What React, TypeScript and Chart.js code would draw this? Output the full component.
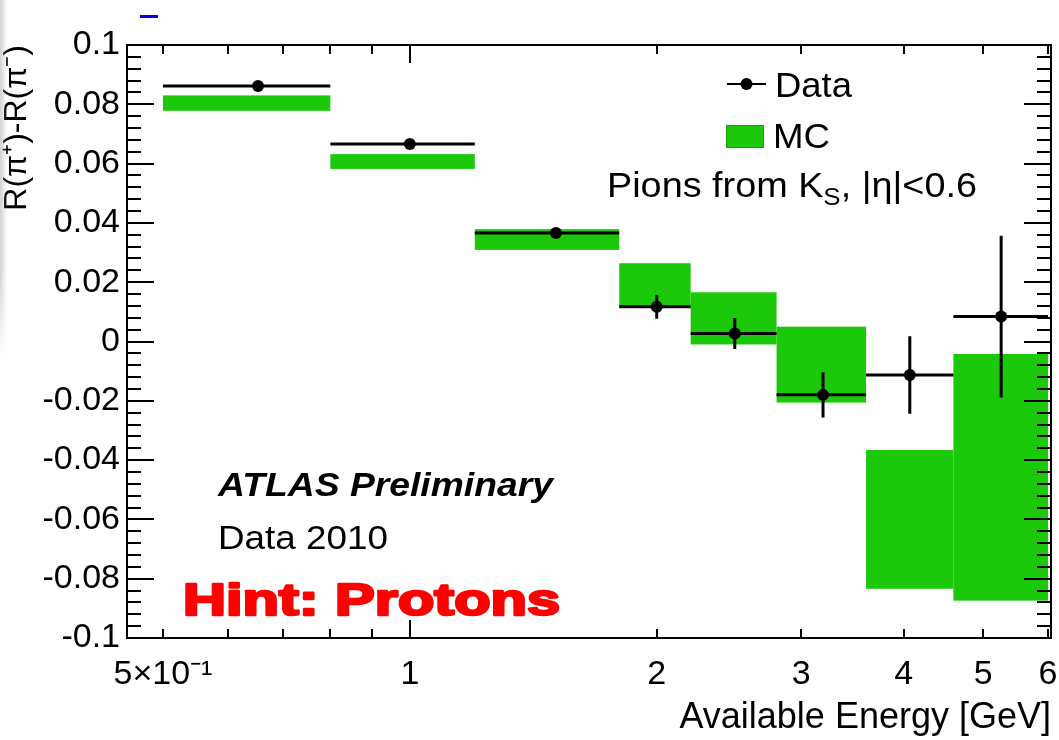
import React, { useEffect, useRef } from "react";
import { Chart, registerables } from "chart.js";

Chart.register(...registerables);

// Energy bins in GeV
const binEdges = [0.5, 0.8, 1.2, 1.8, 2.2, 2.8, 3.6, 4.6, 6.0];

// Measured asymmetry: mean available energy in each bin, value and uncertainty
const dataEnergy = [0.653, 1.0, 1.507, 2.0, 2.49, 3.19, 4.07, 5.26];
const dataValue = [0.0862, 0.0666, 0.0366, 0.0117, 0.0027, -0.018, -0.0113, 0.0084];
const dataError = [0.0012, 0.0012, 0.0012, 0.004, 0.0052, 0.0076, 0.0131, 0.0273];

// Simulation: band centre and half height per bin
const mcValue = [0.0804, 0.0607, 0.0344, 0.019, 0.0078, -0.0078, -0.06, -0.0458];
const mcError = [0.0026, 0.0025, 0.0035, 0.0074, 0.0088, 0.0128, 0.0234, 0.0416];

// Axis furniture
const xLabelValues = [0.5, 1, 2, 3, 4, 5, 6];
const xLabelTexts = ["5×10⁻¹", "1", "2", "3", "4", "5", "6"];
const xMajorTicks = [1];
const xMinorTicks = [0.5, 0.6, 0.7, 0.8, 0.9, 2, 3, 4, 5, 6];
const xRange = [0.452, 6.05];
const yRange = [-0.1, 0.1];
const yMajorStep = 0.02;
const yMinorStep = 0.004;

const FONT = '"Liberation Sans", Arial, Helvetica, sans-serif';
const GREEN = "#1cc80a";

function fitText(
  ctx: CanvasRenderingContext2D,
  text: string,
  x: number,
  baseline: number,
  font: string,
  width: number,
  color: string,
  stroke = 0
) {
  ctx.save();
  ctx.font = font;
  ctx.textBaseline = "alphabetic";
  ctx.textAlign = "left";
  const w = ctx.measureText(text).width;
  ctx.translate(x, baseline);
  ctx.scale(width / w, 1);
  ctx.fillStyle = color;
  ctx.fillText(text, 0, 0);
  if (stroke > 0) {
    ctx.strokeStyle = color;
    ctx.lineWidth = stroke;
    ctx.lineJoin = "round";
    ctx.strokeText(text, 0, 0);
  }
  ctx.restore();
}

const hepPlugin = {
  id: "hepPlot",
  beforeDatasetsDraw(chart: any) {
    const { ctx } = chart;
    const x = chart.scales.x;
    const y = chart.scales.y;
    ctx.save();
    // simulation bands
    ctx.fillStyle = GREEN;
    for (let i = 0; i < mcValue.length; i++) {
      const x0 = x.getPixelForValue(binEdges[i]);
      const x1 = x.getPixelForValue(binEdges[i + 1]);
      const yT = y.getPixelForValue(mcValue[i] + mcError[i]);
      const yB = y.getPixelForValue(mcValue[i] - mcError[i]);
      ctx.fillRect(x0, yT, x1 - x0, yB - yT);
    }
    // data bin widths and error bars
    ctx.strokeStyle = "#000";
    ctx.lineWidth = 3;
    ctx.lineCap = "butt";
    for (let i = 0; i < dataValue.length; i++) {
      const x0 = x.getPixelForValue(binEdges[i]);
      const x1 = x.getPixelForValue(binEdges[i + 1]);
      const xc = x.getPixelForValue(dataEnergy[i]);
      const yc = y.getPixelForValue(dataValue[i]);
      const yT = y.getPixelForValue(dataValue[i] + dataError[i]);
      const yB = y.getPixelForValue(dataValue[i] - dataError[i]);
      ctx.beginPath();
      ctx.moveTo(x0, yc);
      ctx.lineTo(x1, yc);
      ctx.moveTo(xc, yT);
      ctx.lineTo(xc, yB);
      ctx.stroke();
    }
    ctx.restore();
  },
  afterDraw(chart: any) {
    const { ctx, chartArea } = chart;
    const x = chart.scales.x;
    const y = chart.scales.y;
    const { left, right, top, bottom } = chartArea;
    ctx.save();
    ctx.strokeStyle = "#000";
    ctx.lineWidth = 2;
    ctx.beginPath();
    // y ticks on both sides
    const nSteps = Math.round((yRange[1] - yRange[0]) / yMinorStep);
    const perMajor = Math.round(yMajorStep / yMinorStep);
    for (let k = 0; k <= nSteps; k++) {
      const py = Math.round(y.getPixelForValue(yRange[0] + k * yMinorStep));
      const len = k % perMajor === 0 ? 27 : 14;
      ctx.moveTo(left, py);
      ctx.lineTo(left + len, py);
      ctx.moveTo(right, py);
      ctx.lineTo(right - len, py);
    }
    // x ticks on bottom and top
    const xTick = (v: number, len: number) => {
      const px = Math.round(x.getPixelForValue(v));
      ctx.moveTo(px, bottom);
      ctx.lineTo(px, bottom - len);
      ctx.moveTo(px, top);
      ctx.lineTo(px, top + len);
    };
    xMinorTicks.forEach((v) => xTick(v, 9));
    xMajorTicks.forEach((v) => xTick(v, 18));
    ctx.stroke();
    ctx.strokeRect(left, top, right - left, bottom - top);

    // legend
    ctx.lineWidth = 2;
    ctx.beginPath();
    ctx.moveTo(727, 84);
    ctx.lineTo(766, 84);
    ctx.stroke();
    ctx.fillStyle = "#000";
    ctx.beginPath();
    ctx.arc(746.5, 84, 6, 0, Math.PI * 2);
    ctx.fill();
    fitText(ctx, "Data", 775, 97, `35px ${FONT}`, 77, "#000");
    ctx.fillStyle = GREEN;
    ctx.fillRect(726, 125, 38, 23);
    ctx.strokeStyle = "#15a008";
    ctx.lineWidth = 1;
    ctx.strokeRect(726.5, 125.5, 37, 22);
    fitText(ctx, "MC", 773, 148, `35px ${FONT}`, 57, "#000");

    // selection text with subscript
    ctx.font = `35px ${FONT}`;
    const sx = 1.08;
    const partA = "Pions from K";
    const partC = ", |η|<0.6";
    const wA = ctx.measureText(partA).width * sx;
    fitText(ctx, partA, 607, 197, `35px ${FONT}`, wA, "#000");
    ctx.font = `24px ${FONT}`;
    const wB = ctx.measureText("S").width * sx;
    fitText(ctx, "S", 607 + wA, 205, `24px ${FONT}`, wB, "#000");
    ctx.font = `35px ${FONT}`;
    const wC = ctx.measureText(partC).width * sx;
    fitText(ctx, partC, 607 + wA + wB, 197, `35px ${FONT}`, wC, "#000");

    fitText(ctx, "ATLAS Preliminary", 218, 496, `italic bold 34px ${FONT}`, 335, "#000");
    fitText(ctx, "Data 2010", 218, 549, `34px ${FONT}`, 170, "#000");
    fitText(ctx, "Hint: Protons", 183, 615, `bold 44px ${FONT}`, 377, "#ff0000", 2.5);

    // small blue mark above the frame
    ctx.fillStyle = "#0000f0";
    ctx.fillRect(140, 15, 18, 3);
    ctx.restore();
  },
};

export default function App() {
  const canvasRef = useRef<HTMLCanvasElement | null>(null);

  useEffect(() => {
    const canvas = canvasRef.current;
    if (!canvas) return;
    Chart.defaults.font.family = FONT;
    const chart = new Chart(canvas, {
      type: "scatter",
      data: {
        datasets: [
          {
            label: "Data",
            data: dataEnergy.map((e, i) => ({ x: e, y: dataValue[i] })),
            pointRadius: 6,
            pointHoverRadius: 6,
            pointBackgroundColor: "#000",
            pointBorderColor: "#000",
            pointBorderWidth: 0,
            showLine: false,
          },
        ],
      },
      options: {
        responsive: false,
        animation: false,
        devicePixelRatio: 1,
        layout: { padding: { top: 45, right: 8, left: 0, bottom: 0 } },
        plugins: {
          legend: { display: false },
          tooltip: { enabled: false },
        },
        scales: {
          x: {
            type: "logarithmic",
            min: xRange[0],
            max: xRange[1],
            grid: { display: false, drawTicks: false },
            border: { display: false },
            afterBuildTicks: (scale: any) => {
              scale.ticks = xLabelValues.map((v) => ({ value: v }));
            },
            afterFit: (scale: any) => {
              scale.height = 102;
              scale.paddingLeft = 0;
              scale.paddingRight = 0;
            },
            ticks: {
              autoSkip: false,
              maxRotation: 0,
              padding: 16,
              color: "#000",
              font: { family: FONT, size: 34 },
              callback: (v: any) => {
                const i = xLabelValues.indexOf(Number(v));
                return i >= 0 ? xLabelTexts[i] : "";
              },
            },
            title: {
              display: true,
              text: "Available Energy [GeV]",
              align: "end",
              color: "#000",
              font: { family: FONT, size: 36, lineHeight: 1.2 },
              padding: { top: 0, bottom: 0 },
            },
          },
          y: {
            min: yRange[0],
            max: yRange[1],
            grid: { display: false, drawTicks: false },
            border: { display: false },
            afterFit: (scale: any) => {
              scale.width = 127;
              scale.paddingTop = 0;
              scale.paddingBottom = 0;
            },
            ticks: {
              stepSize: yMajorStep,
              padding: 7,
              color: "#000",
              font: { family: FONT, size: 34 },
              callback: (v: any) => String(Math.round(Number(v) * 100) / 100),
            },
            title: {
              display: true,
              text: "R(π⁺)-R(π⁻)",
              align: "end",
              color: "#000",
              font: { family: FONT, size: 32, lineHeight: 1.1 },
              padding: { top: 0, bottom: 0 },
            },
          },
        },
      },
      plugins: [hepPlugin],
    });
    return () => chart.destroy();
  }, []);

  return (
    <div
      style={{
        position: "fixed",
        left: 0,
        top: 0,
        width: 1059,
        height: 740,
        background: "#fff",
      }}
    >
      <canvas ref={canvasRef} width={1059} height={740} style={{ display: "block" }} />
      <div
        style={{
          position: "absolute",
          left: 0,
          top: 0,
          width: 7,
          height: 360,
          background: "linear-gradient(to right, rgba(170,170,170,0.55), rgba(255,255,255,0))",
          WebkitMaskImage: "linear-gradient(to bottom, black 75%, transparent)",
          maskImage: "linear-gradient(to bottom, black 75%, transparent)",
        }}
      />
    </div>
  );
}
